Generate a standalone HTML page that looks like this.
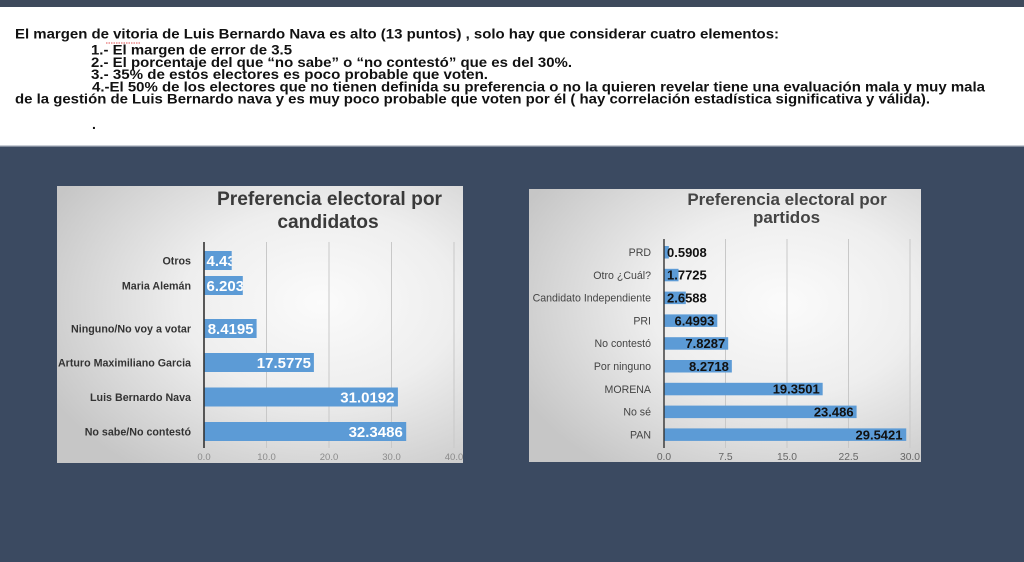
<!DOCTYPE html>
<html>
<head>
<meta charset="utf-8">
<style>
  html,body{margin:0;padding:0;background:#3b4a61;}
  svg{display:block;}
  text{font-family:"Liberation Sans", Arial, sans-serif;}
</style>
</head>
<body>
<svg width="1024" height="562" viewBox="0 0 1024 562" xmlns="http://www.w3.org/2000/svg">
  <defs>
    <radialGradient id="pg" cx="65%" cy="42%" r="75%">
      <stop offset="0" stop-color="#fbfbfb"/>
      <stop offset="0.45" stop-color="#eeeeee"/>
      <stop offset="1" stop-color="#c6c6c6"/>
    </radialGradient>
    <clipPath id="c1"><rect x="204" y="251" width="27.7" height="19"/></clipPath>
    <clipPath id="c2"><rect x="204" y="276" width="38.8" height="19"/></clipPath>
  </defs>

  <!-- background -->
  <rect x="0" y="0" width="1024" height="562" fill="#3b4a61"/>
  <rect x="0" y="0" width="1024" height="7" fill="#3e4a5c"/>
  <rect x="0" y="7" width="1024" height="139" fill="#ffffff"/>
  <rect x="0" y="145" width="1024" height="1.5" fill="#c9ced6"/>

  <!-- top text -->
  <g font-size="14" font-weight="bold" fill="#111">
    <text x="15" y="38.3" textLength="764" lengthAdjust="spacingAndGlyphs">El margen de vitoria de Luis Bernardo Nava es alto (13 puntos) , solo hay que considerar cuatro elementos:</text>
    <text x="91" y="54.5" textLength="201" lengthAdjust="spacingAndGlyphs">1.- El margen de error de 3.5</text>
    <text x="91" y="66.8" textLength="481" lengthAdjust="spacingAndGlyphs">2.- El porcentaje del que “no sabe” o “no contestó” que es del 30%.</text>
    <text x="91" y="79" textLength="397" lengthAdjust="spacingAndGlyphs">3.- 35% de estos electores es poco probable que voten.</text>
    <text x="92" y="91.3" textLength="893" lengthAdjust="spacingAndGlyphs">4.-El 50% de los electores que no tienen definida su preferencia o no la quieren revelar tiene una evaluación mala y muy mala</text>
    <text x="15" y="103.5" textLength="915" lengthAdjust="spacingAndGlyphs">de la gestión de Luis Bernardo nava y es muy poco probable que voten por él ( hay correlación estadística significativa y válida).</text>
    <text x="92" y="129">.</text>
  </g>
  <line x1="106" y1="43" x2="140" y2="43" stroke="#e05050" stroke-width="1" stroke-dasharray="1.5,1"/>

  <!-- LEFT PANEL -->
  <rect x="57" y="186" width="406" height="277" fill="url(#pg)"/>
  <g font-size="19.2" font-weight="bold" fill="#3a3a3a" text-anchor="middle">
    <text x="329.5" y="205">Preferencia electoral por</text>
    <text x="328" y="228">candidatos</text>
  </g>
  <!-- gridlines -->
  <g stroke="#c8c8c8" stroke-width="1">
    <line x1="266.5" y1="242" x2="266.5" y2="448"/>
    <line x1="329" y1="242" x2="329" y2="448"/>
    <line x1="391.5" y1="242" x2="391.5" y2="448"/>
    <line x1="454" y1="242" x2="454" y2="448"/>
  </g>
  <!-- bars -->
  <g fill="#5c9bd6">
    <rect x="204" y="251" width="27.7" height="19"/>
    <rect x="204" y="276" width="38.8" height="19"/>
    <rect x="204" y="319" width="52.6" height="19"/>
    <rect x="204" y="353" width="109.9" height="19"/>
    <rect x="204" y="387.5" width="193.9" height="19"/>
    <rect x="204" y="422" width="202.2" height="19"/>
  </g>
  <line x1="204" y1="242" x2="204" y2="448" stroke="#333" stroke-width="1.6"/>
  <!-- category labels -->
  <g font-size="10.7" font-weight="bold" fill="#333" text-anchor="end">
    <text x="191" y="264.3">Otros</text>
    <text x="191" y="289.3">Maria Alemán</text>
    <text x="191" y="332.3">Ninguno/No voy a votar</text>
    <text x="191" y="366.3">Arturo Maximiliano Garcia</text>
    <text x="191" y="400.8">Luis Bernardo Nava</text>
    <text x="191" y="435.3">No sabe/No contestó</text>
  </g>
  <!-- value labels -->
  <g font-size="15" font-weight="bold" fill="#ffffff">
    <text x="206.5" y="266" clip-path="url(#c1)">4.43</text>
    <text x="206.5" y="291" clip-path="url(#c2)">6.203</text>
    <text x="253.6" y="334" text-anchor="end">8.4195</text>
    <text x="311" y="368" text-anchor="end">17.5775</text>
    <text x="394.5" y="402.5" text-anchor="end">31.0192</text>
    <text x="402.8" y="437" text-anchor="end">32.3486</text>
  </g>
  <!-- ticks -->
  <g font-size="9.5" fill="#8a8a8a" text-anchor="middle">
    <text x="204" y="460">0.0</text>
    <text x="266.5" y="460">10.0</text>
    <text x="329" y="460">20.0</text>
    <text x="391.5" y="460">30.0</text>
    <text x="454" y="460">40.0</text>
  </g>

  <!-- RIGHT PANEL -->
  <rect x="529" y="189" width="392" height="273" fill="url(#pg)"/>
  <g font-size="17" font-weight="bold" fill="#444" text-anchor="middle">
    <text x="787" y="205">Preferencia electoral por</text>
    <text x="786.5" y="223">partidos</text>
  </g>
  <g stroke="#c8c8c8" stroke-width="1">
    <line x1="725.5" y1="239" x2="725.5" y2="448"/>
    <line x1="787" y1="239" x2="787" y2="448"/>
    <line x1="848.5" y1="239" x2="848.5" y2="448"/>
    <line x1="910" y1="239" x2="910" y2="448"/>
  </g>
  <g fill="#5c9bd6">
    <rect x="664" y="246" width="4.84" height="12.5"/>
    <rect x="664" y="268.8" width="14.53" height="12.5"/>
    <rect x="664" y="291.6" width="21.8" height="12.5"/>
    <rect x="664" y="314.4" width="53.29" height="12.5"/>
    <rect x="664" y="337.2" width="64.2" height="12.5"/>
    <rect x="664" y="360" width="67.83" height="12.5"/>
    <rect x="664" y="382.8" width="158.67" height="12.5"/>
    <rect x="664" y="405.6" width="192.59" height="12.5"/>
    <rect x="664" y="428.4" width="242.25" height="12.5"/>
  </g>
  <line x1="664" y1="239" x2="664" y2="448" stroke="#333" stroke-width="1.4"/>
  <g font-size="10.6" fill="#444" text-anchor="end">
    <text x="651" y="256">PRD</text>
    <text x="651" y="278.8">Otro ¿Cuál?</text>
    <text x="651" y="301.6">Candidato Independiente</text>
    <text x="651" y="324.4">PRI</text>
    <text x="651" y="347.2">No contestó</text>
    <text x="651" y="370">Por ninguno</text>
    <text x="651" y="392.8">MORENA</text>
    <text x="651" y="415.6">No sé</text>
    <text x="651" y="438.4">PAN</text>
  </g>
  <g font-size="13" font-weight="bold" fill="#111">
    <text x="667" y="256.9">0.5908</text>
    <text x="667" y="279.7">1.7725</text>
    <text x="667" y="302.5">2.6588</text>
    <text x="714.3" y="325.3" text-anchor="end">6.4993</text>
    <text x="725.2" y="348.1" text-anchor="end">7.8287</text>
    <text x="728.8" y="370.9" text-anchor="end">8.2718</text>
    <text x="819.7" y="393.7" text-anchor="end">19.3501</text>
    <text x="853.6" y="416.5" text-anchor="end">23.486</text>
    <text x="902.5" y="439.3" text-anchor="end">29.5421</text>
  </g>
  <g font-size="10.3" fill="#666" text-anchor="middle">
    <text x="664" y="460">0.0</text>
    <text x="725.5" y="460">7.5</text>
    <text x="787" y="460">15.0</text>
    <text x="848.5" y="460">22.5</text>
    <text x="910" y="460">30.0</text>
  </g>
</svg>
</body>
</html>
